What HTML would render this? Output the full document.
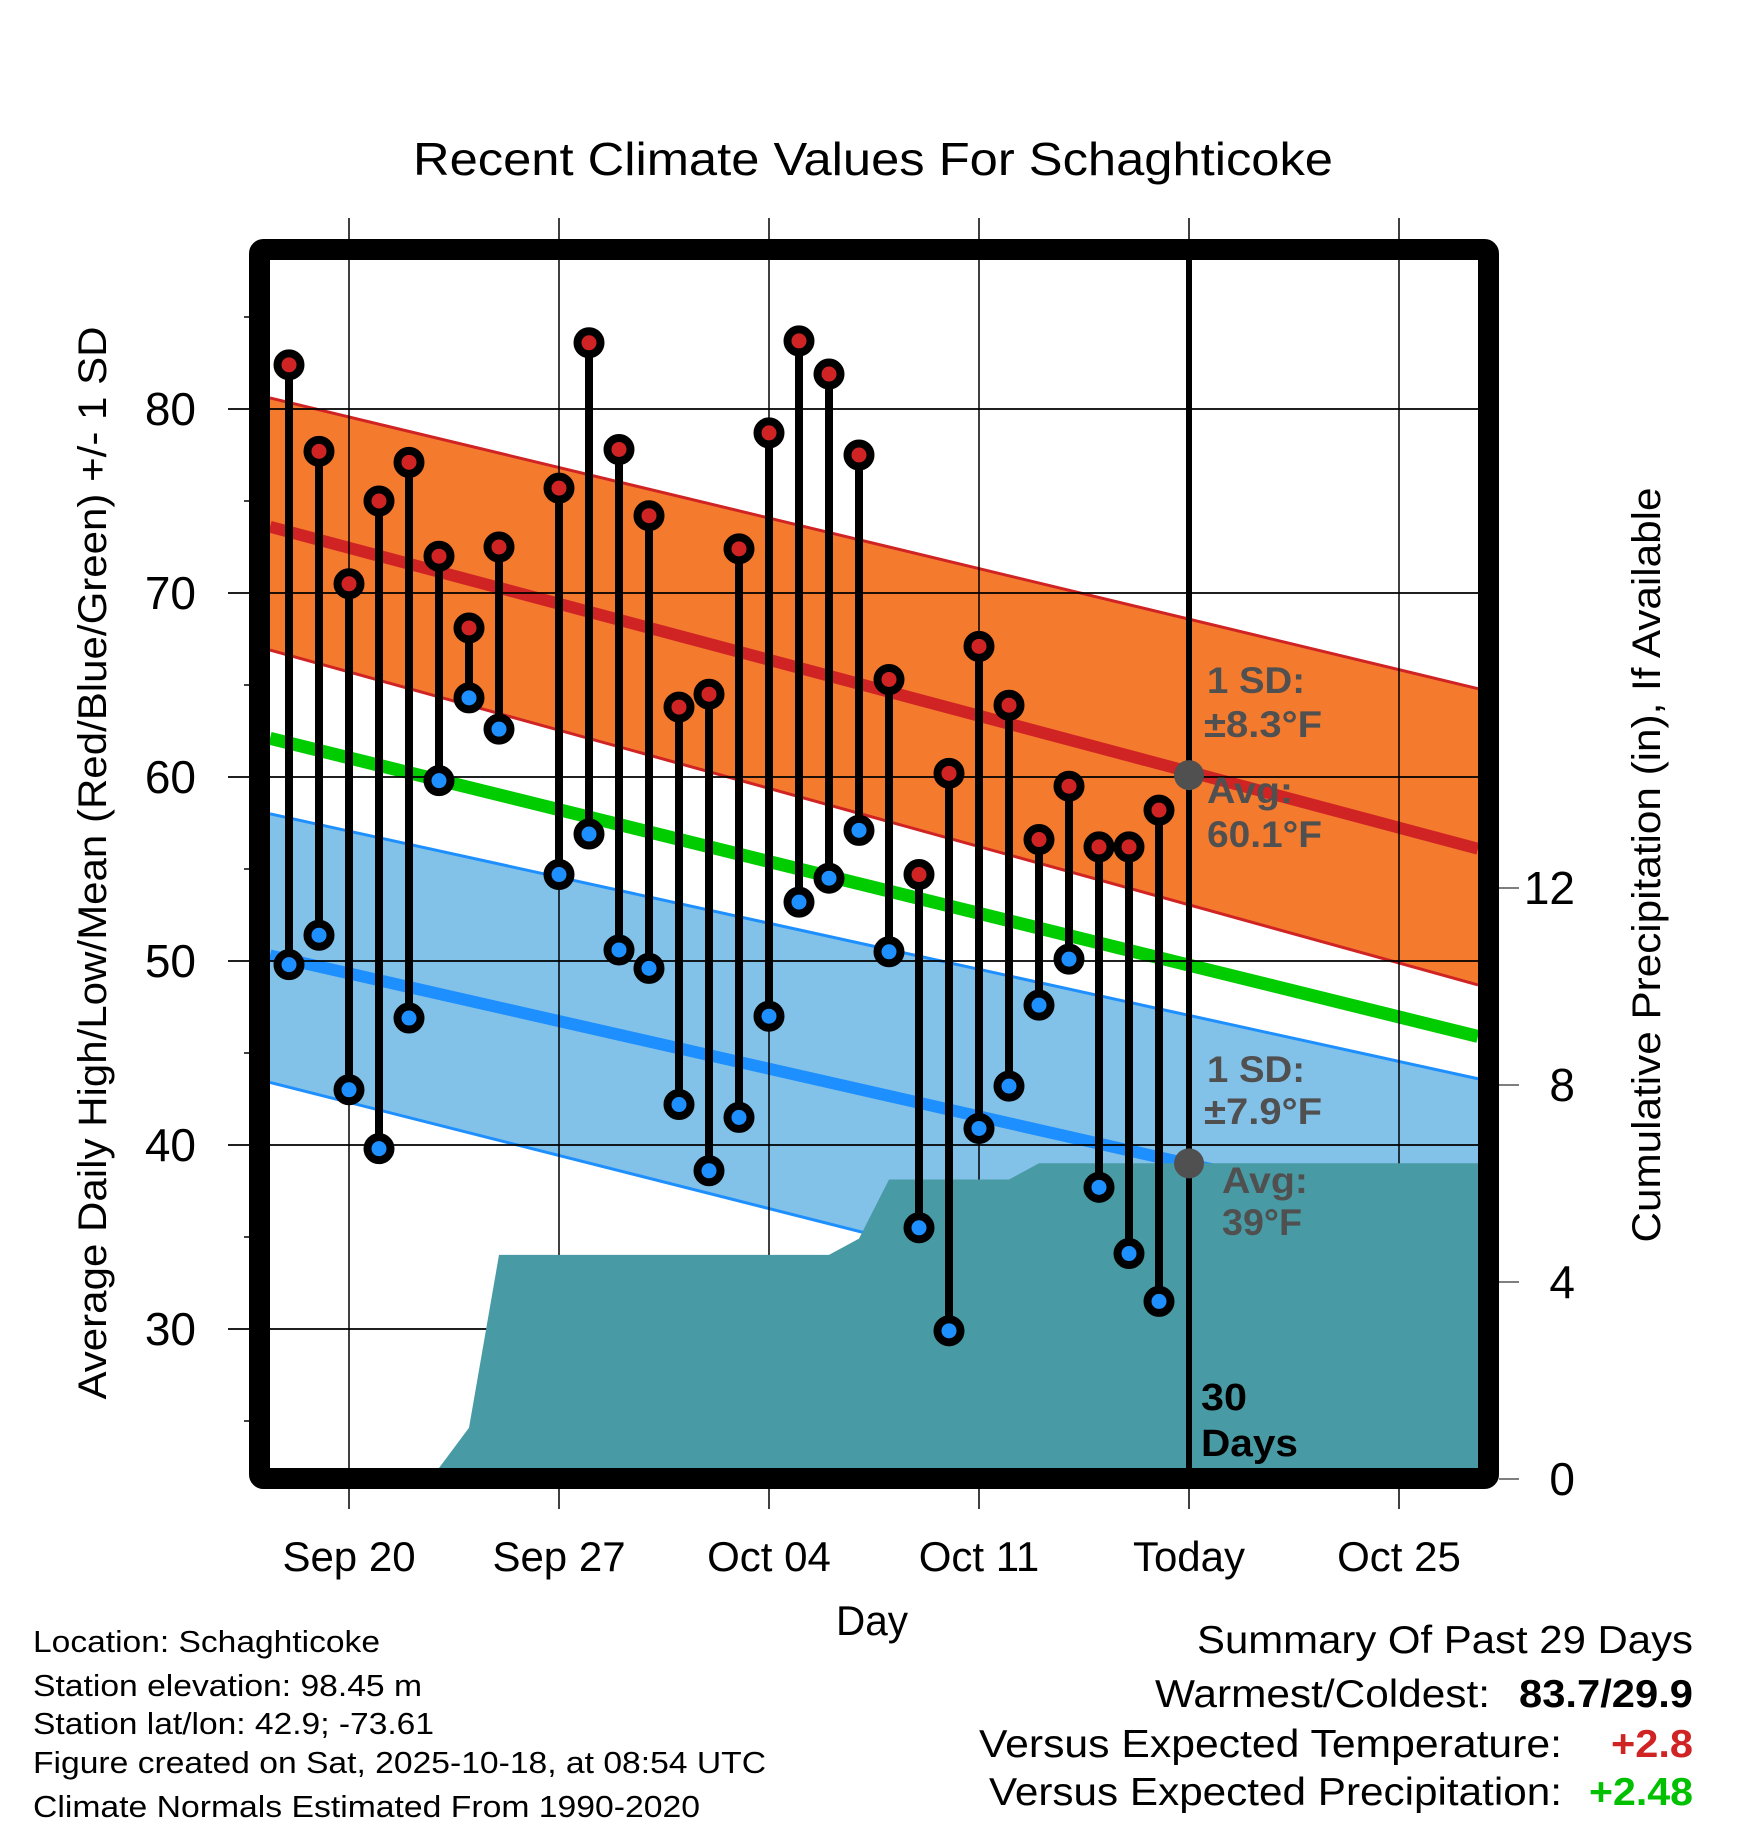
<!DOCTYPE html>
<html><head><meta charset="utf-8"><style>
html,body{margin:0;padding:0;background:#fff;}
svg{display:block;font-family:"Liberation Sans",Arial,sans-serif;}
</style></head><body>
<svg id="chart" width="1748" height="1828" viewBox="0 0 1748 1828" xmlns="http://www.w3.org/2000/svg">
<rect x="0" y="0" width="1748" height="1828" fill="#fff"/>
<g id="bands"></g>
<g id="grid"></g>
<g id="precip"></g>
<g id="stems"></g>
<g id="frame"></g>
<g id="labels"></g>
</svg>
<script>
// ---- data ----
const dayIndex = [0,1,2,3,4,5,6,7,9,10,11,12,13,14,15,16,17,18,19,20,21,22,23,24,25,26,27,28,29];
const highs = [82.4,77.7,70.5,75.0,77.1,72.0,68.1,72.5,75.7,83.6,77.8,74.2,63.8,64.5,72.4,78.7,83.7,81.9,77.5,65.3,54.7,60.2,67.1,63.9,56.6,59.5,56.2,56.2,58.2];
const lows  = [49.8,51.4,43.0,39.8,46.9,59.8,64.3,62.6,54.7,56.9,50.6,49.6,42.2,38.6,41.5,47.0,53.2,54.5,57.1,50.5,35.5,29.9,40.9,43.2,47.6,50.1,37.7,34.1,31.5];
const precipDays = [0,1,2,3,4,5,6,7,8,9,10,11,12,13,14,15,16,17,18,19,20,21,22,23,24,25,26,27,28,29];
const precipVals = [0,0,0,0,0,0,1.04,4.55,4.55,4.55,4.55,4.55,4.55,4.55,4.55,4.55,4.55,4.55,4.55,4.88,6.08,6.08,6.08,6.08,6.08,6.41,6.41,6.41,6.41,6.41];
// normals at left edge / right edge of plot
const redUpper = [80.6,64.8];
const redMean = [73.6,56.1];
const redLower = [66.9,48.7];
const greenMean = [62.1,45.9];
const blueUpper = [58.0,43.6];
const blueMean = [50.3,35.4];
const blueLower = [43.4,26.8];
const xTickDays = [2,9,16,23,30,37];
const xTickLabels = ["Sep 20","Sep 27","Oct 04","Oct 11","Today","Oct 25"];
const yTicks = [30,40,50,60,70,80];
const yMinor = [25,35,45,55,65,75,85];
const pTicks = [0,4,8,12];

// ---- axes ----
const L=270,R=1478,T=260,B=1468;
const X=d=>289+30*d;
const Y=t=>409+(80-t)*18.4;
const P=p=>1479-p*49.25;
const NS="http://www.w3.org/2000/svg";
function mk(parent,tag,attrs){const e=document.createElementNS(NS,tag);for(const k in attrs)e.setAttribute(k,attrs[k]);document.getElementById(parent).appendChild(e);return e;}

function band(up,lo,fill,name){
  const e=mk('bands','polygon',{points:`${L},${Y(up[0])} ${R},${Y(up[1])} ${R},${Y(lo[1])} ${L},${Y(lo[0])}`,fill:fill});
  
  
}
band(redUpper,redLower,'#f47a2e','high-sd-band');
band(blueUpper,blueLower,'#82c1e8','low-sd-band');
function line(v,col,w,name){
  const e=mk('bands','line',{x1:L,y1:Y(v[0]),x2:R,y2:Y(v[1]),stroke:col,'stroke-width':w});
  
  
}
line(redUpper,'#d02424',3,'high-sd-upper');
line(redLower,'#d02424',3,'high-sd-lower');
line(blueUpper,'#1e8fff',3,'low-sd-upper');
line(blueLower,'#1e8fff',3,'low-sd-lower');
line(redMean,'#d02424',12,'normal-high-line');
line(greenMean,'#00cc00',13,'normal-mean-line');
line(blueMean,'#1e8fff',12,'normal-low-line');

xTickDays.forEach((d,i)=>{
  const g=mk('grid','line',{x1:X(d),y1:218,x2:X(d),y2:B,stroke:'#000','stroke-width':1.5});
  
  
  const t=mk('grid','line',{x1:X(d),y1:1489,x2:X(d),y2:1509,stroke:'#000','stroke-width':1.5});
  
  
  const l=mk('labels','text',{x:X(d),y:1571,'font-size':42,'text-anchor':'middle',fill:'#000'});
  l.textContent=xTickLabels[i];
  
  
});
yTicks.forEach(v=>{
  const g=mk('grid','line',{x1:228,y1:Y(v),x2:R,y2:Y(v),stroke:'#000','stroke-width':1.8});
  
  
  const l=mk('labels','text',{x:196,y:Y(v)+16,'font-size':46,'text-anchor':'end',fill:'#000'});
  l.textContent=v;
  
  
});
yMinor.forEach(v=>{
  const t=mk('grid','line',{x1:244,y1:Y(v),x2:255,y2:Y(v),stroke:'#000','stroke-width':1.5});
  
  
});
pTicks.forEach(v=>{
  const t=mk('grid','line',{x1:1499,y1:P(v),x2:1519,y2:P(v),stroke:'#555','stroke-width':1.5});
  
  
  const l=mk('labels','text',{x:1575,y:P(v)+16,'font-size':46,'text-anchor':'end',fill:'#000'});
  l.textContent=v;
  
  
});

let pts=[];
precipDays.forEach((d,i)=>pts.push(`${X(d)},${Math.min(B,P(precipVals[i]))}`));
pts.push(`${R},${P(precipVals[precipVals.length-1])}`);
pts.push(`${R},${B}`);pts.push(`${X(precipDays[0])},${B}`);
const pa=mk('precip','polygon',{points:pts.join(' '),fill:'#489ba4'});



const td=mk('precip','line',{x1:X(30),y1:T,x2:X(30),y2:B,stroke:'#000','stroke-width':6});



dayIndex.forEach((d,i)=>{
  const x=X(d);
  const s=mk('stems','line',{x1:x,y1:Y(highs[i]),x2:x,y2:Y(lows[i]),stroke:'#000','stroke-width':8});
  
  
  const h=mk('stems','circle',{cx:x,cy:Y(highs[i]),r:11.5,fill:'#d02424',stroke:'#000','stroke-width':8});
  
  
  const lo=mk('stems','circle',{cx:x,cy:Y(lows[i]),r:11.5,fill:'#1e8fff',stroke:'#000','stroke-width':8});
  
  
});
[[60.1,'avg-high-marker'],[39,'avg-low-marker']].forEach(a=>{
  const c=mk('stems','circle',{cx:X(30),cy:Y(a[0]),r:15,fill:'#505050'});
  
  
});

const fr=mk('frame','rect',{x:259.5,y:249.5,width:1229,height:1229,fill:'none',stroke:'#000','stroke-width':21,rx:4});


</script>
<script>
(function(){
const NS="http://www.w3.org/2000/svg";
const g=document.getElementById('labels');
// text, x, y, size, anchor, color, weight, name, length
const items=[
 ['Recent Climate Values For Schaghticoke',873,175,46,'middle','#000','normal','chart-title',920],
 ['Day',872,1635,42,'middle','#000','normal','x-axis-title',72],
 ['1 SD:',1207,693,37,'start','#505050','bold','high-sd-label',98],
 ['±8.3°F',1204,737,37,'start','#505050','bold','high-sd-value',118],
 ['Avg:',1207,803,37,'start','#505050','bold','high-avg-label',86],
 ['60.1°F',1207,847,37,'start','#505050','bold','high-avg-value',115],
 ['1 SD:',1207,1082,37,'start','#505050','bold','low-sd-label',98],
 ['±7.9°F',1204,1124,37,'start','#505050','bold','low-sd-value',118],
 ['Avg:',1222,1193,37,'start','#505050','bold','low-avg-label',86],
 ['39°F',1222,1235,37,'start','#505050','bold','low-avg-value',80],
 ['30',1201,1410,38,'start','#000','bold','days-count',46],
 ['Days',1201,1456,38,'start','#000','bold','days-label',97],
 ['Location: Schaghticoke',33,1652,31,'start','#000','normal','location-text',347],
 ['Station elevation: 98.45 m',33,1696,31,'start','#000','normal','elevation-text',389],
 ['Station lat/lon: 42.9; -73.61',33,1734,31,'start','#000','normal','latlon-text',401],
 ['Figure created on Sat, 2025-10-18, at 08:54 UTC',33,1773,31,'start','#000','normal','created-text',733],
 ['Climate Normals Estimated From 1990-2020',33,1817,31,'start','#000','normal','normals-text',667],
 ['Summary Of Past 29 Days',1693,1653,39,'end','#000','normal','summary-title',496],
 ['Warmest/Coldest:',1490,1707,39,'end','#000','normal','warmest-coldest-label',335],
 ['83.7/29.9',1693,1707,39,'end','#000','bold','warmest-coldest-value',174],
 ['Versus Expected Temperature:',1562,1757,39,'end','#000','normal','vs-temp-label',583],
 ['+2.8',1693,1757,39,'end','#d02424','bold','vs-temp-value',82],
 ['Versus Expected Precipitation:',1562,1805,39,'end','#000','normal','vs-precip-label',573],
 ['+2.48',1693,1805,39,'end','#00c000','bold','vs-precip-value',104]
];
items.forEach(it=>{
 const t=document.createElementNS(NS,'text');
 t.setAttribute('x',it[1]);t.setAttribute('y',it[2]);t.setAttribute('font-size',it[3]);
 t.setAttribute('text-anchor',it[4]);t.setAttribute('fill',it[5]);t.setAttribute('font-weight',it[6]);
 t.setAttribute('textLength',it[8]);t.setAttribute('lengthAdjust','spacingAndGlyphs');
 t.textContent=it[0];
 
 
 g.appendChild(t);
});
const y1=document.createElementNS(NS,'text');
y1.setAttribute('transform','translate(106,863) rotate(-90)');
y1.setAttribute('font-size',40);y1.setAttribute('text-anchor','middle');
y1.setAttribute('textLength',1073);y1.setAttribute('lengthAdjust','spacingAndGlyphs');
y1.textContent='Average Daily High/Low/Mean (Red/Blue/Green) +/- 1 SD';


g.appendChild(y1);
const y2=document.createElementNS(NS,'text');
y2.setAttribute('transform','translate(1660,865) rotate(-90)');
y2.setAttribute('font-size',40);y2.setAttribute('text-anchor','middle');
y2.setAttribute('textLength',755);y2.setAttribute('lengthAdjust','spacingAndGlyphs');
y2.textContent='Cumulative Precipitation (in), If Available';


g.appendChild(y2);
})();
</script>
</body></html>
